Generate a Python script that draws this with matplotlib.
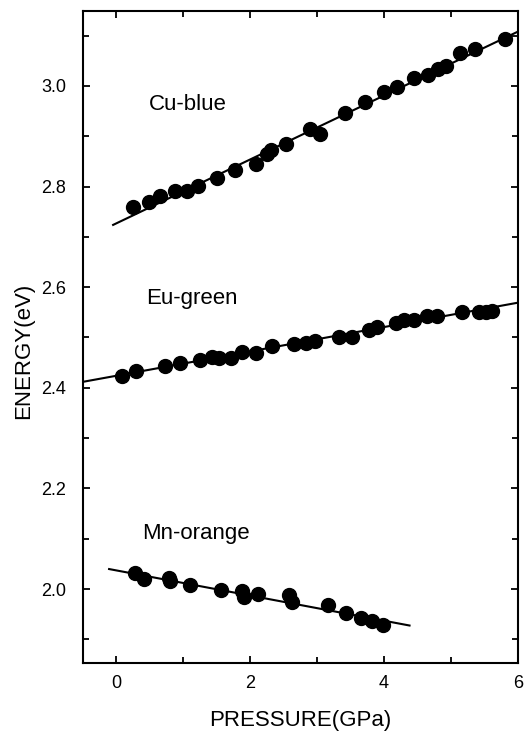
import matplotlib
matplotlib.use("Agg")
import matplotlib.pyplot as plt
import numpy as np
from matplotlib.ticker import MultipleLocator, FormatStrFormatter

plt.rcParams['font.family'] = ['Liberation Sans', 'DejaVu Sans']

# Cu-blue emission
cu_p = [0.25, 0.48, 0.65, 0.87, 1.06, 1.22, 1.50, 1.77, 2.09, 2.25, 2.31, 2.53,
        2.89, 3.04, 3.41, 3.72, 4.00, 4.19, 4.45, 4.66, 4.81, 4.93, 5.14, 5.36, 5.80]
cu_e = [2.760, 2.770, 2.781, 2.792, 2.791, 2.801, 2.817, 2.833, 2.845, 2.865, 2.873, 2.885,
        2.914, 2.905, 2.946, 2.968, 2.988, 2.997, 3.015, 3.022, 3.033, 3.040, 3.065, 3.073, 3.093]

# Eu-green emission
eu_p = [0.09, 0.29, 0.73, 0.95, 1.25, 1.43, 1.54, 1.71, 1.87, 2.08, 2.33, 2.65, 2.84, 2.96,
        3.33, 3.52, 3.78, 3.89, 4.18, 4.29, 4.45, 4.64, 4.79, 5.16, 5.42, 5.53, 5.61]
eu_e = [2.423, 2.433, 2.443, 2.449, 2.455, 2.461, 2.459, 2.459, 2.472, 2.470, 2.484, 2.487, 2.490, 2.494,
        2.500, 2.500, 2.515, 2.520, 2.528, 2.535, 2.535, 2.543, 2.543, 2.551, 2.551, 2.551, 2.552]

# Mn-orange emission
mn_p = [0.27, 0.41, 0.79, 0.80, 1.10, 1.56, 1.88, 1.90, 2.11, 2.58, 2.63, 3.16, 3.43, 3.66, 3.82, 3.98]
mn_e = [2.031, 2.019, 2.022, 2.016, 2.009, 1.998, 1.996, 1.985, 1.990, 1.988, 1.975, 1.968, 1.953, 1.942, 1.937, 1.928]

# linear fits: (intercept, slope, p_start, p_end)
cu_fit = (2.727, 0.0635, -0.05, 6.0)
eu_fit = (2.424, 0.0242, -0.5, 6.0)
mn_fit = (2.037, -0.0250, -0.11, 4.38)

fig = plt.figure(figsize=(5.24, 7.33), dpi=100)
ax = fig.add_axes([0.1584, 0.0955, 0.83, 0.8895])

for p, e, fit in [(cu_p, cu_e, cu_fit), (eu_p, eu_e, eu_fit), (mn_p, mn_e, mn_fit)]:
    b, m, x0, x1 = fit
    xs = np.array([x0, x1])
    ax.plot(xs, b + m * xs, color='black', lw=1.5, zorder=2)
    ax.plot(p, e, 'o', color='black', ms=10, zorder=3)

ax.text(0.48, 2.964, 'Cu-blue', fontsize=16, ha='left', va='center')
ax.text(0.44, 2.578, 'Eu-green', fontsize=16, ha='left', va='center')
ax.text(0.39, 2.111, 'Mn-orange', fontsize=16, ha='left', va='center')

ax.set_xlim(-0.5, 6)
ax.set_ylim(1.853, 3.149)
ax.xaxis.set_major_locator(MultipleLocator(2))
ax.xaxis.set_minor_locator(MultipleLocator(1))
ax.yaxis.set_major_locator(MultipleLocator(0.2))
ax.yaxis.set_minor_locator(MultipleLocator(0.1))
ax.yaxis.set_major_formatter(FormatStrFormatter('%.1f'))
ax.tick_params(which='both', direction='in', top=True, right=True, width=1.3, labelsize=13)
ax.tick_params(which='major', length=5)
ax.tick_params(which='minor', length=4)
ax.tick_params(axis='x', which='major', pad=9)
ax.tick_params(axis='y', which='major', pad=12)
for s in ax.spines.values():
    s.set_linewidth(1.5)

ax.set_xlabel('PRESSURE(GPa)', fontsize=16)
ax.set_ylabel('ENERGY(eV)', fontsize=16)
ax.xaxis.set_label_coords(0.5, -0.072)
ax.yaxis.set_label_coords(-0.113, 0.478)

fig.savefig('out.png', dpi=100)
